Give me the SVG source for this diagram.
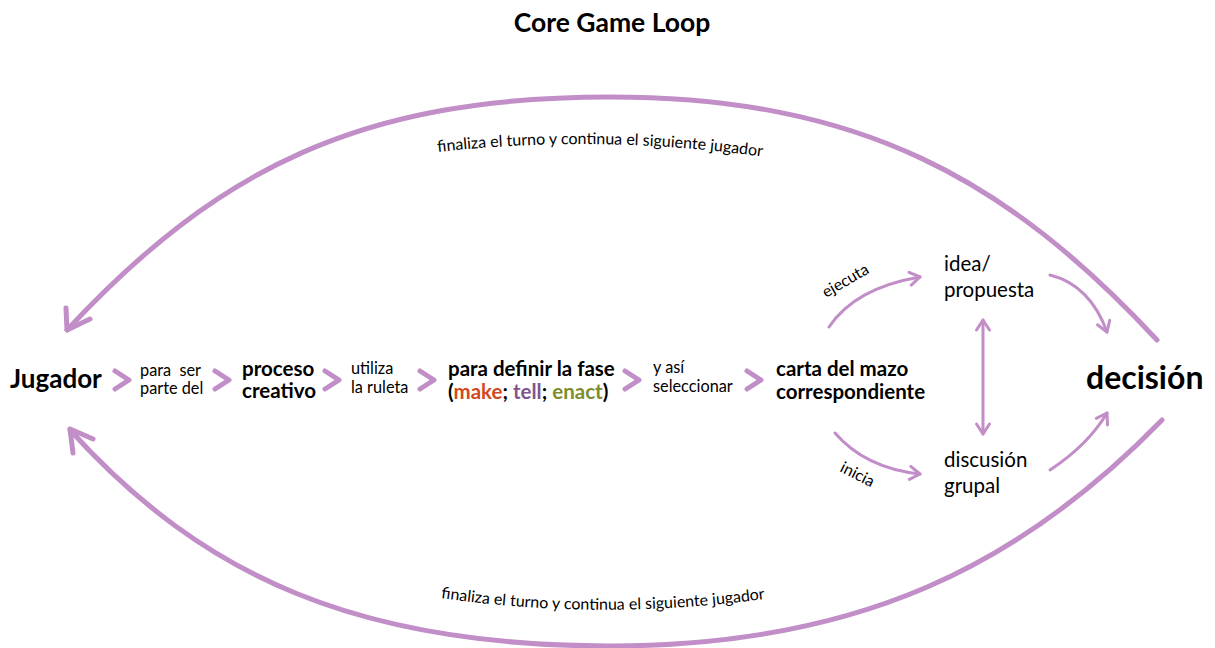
<svg xmlns="http://www.w3.org/2000/svg" width="1215" height="648" viewBox="0 0 1215 648">
  <style>
    text { font-family: Lato, "Open Sans", "Liberation Sans", sans-serif; fill: #000; }
    .title { font-size: 26.5px; font-weight: 700; }
    .main { font-size: 20.5px; font-weight: 700; }
    .big { font-size: 26px; font-weight: 700; }
    .huge { font-size: 32px; font-weight: 700; }
    .small { font-size: 16.3px; }
    .node { font-size: 20.5px; }
    .label { font-size: 16px; }
    .make { fill: #d3491c; }
    .tell { fill: #80558f; }
    .enact { fill: #7d8d2b; }
    .loop { fill: none; stroke: #c18ec8; stroke-width: 5; stroke-linecap: round; stroke-linejoin: round; }
    .link { fill: none; stroke: #c18ec8; stroke-width: 3; stroke-linecap: round; }
    .chev { fill: none; stroke: #c18ec8; stroke-width: 5; stroke-linecap: round; stroke-linejoin: round; }
  </style>
  <defs>
    <marker id="ah" markerUnits="userSpaceOnUse" viewBox="-13 -9 16 18" refX="0" refY="0"
            markerWidth="16" markerHeight="18" orient="auto-start-reverse" overflow="visible">
      <path d="M-10,-6.5 L0,0 L-10,6.5" fill="none" stroke="#c18ec8" stroke-width="3"
            stroke-linecap="round" stroke-linejoin="round"/>
    </marker>
    <path id="topLabelPath" d="M428,153 Q600,133 772,158"/>
    <path id="bottomLabelPath" d="M434,597 Q600,622 772,598"/>
  </defs>

  <text class="title" x="612" y="32" text-anchor="middle">Core Game Loop</text>

  <g id="connectors">
    <!-- outer loop back to the next player -->
    <path class="loop" d="M1157,340 C1007,179 860,97 610,97 C360,97 217,169 67,330"/>
    <polyline class="loop" points="66,308 67,330 90,319"/>
    <path class="loop" d="M1162,420 C1022,564 860,646 610,646 C360,646 204,578 70,430"/>
    <polyline class="loop" points="73,453 70,429 93,439"/>

    <!-- chevrons along the main row -->
    <polyline class="chev" points="115,371 129,380 115,389"/>
    <polyline class="chev" points="215,371 229,380 215,389"/>
    <polyline class="chev" points="325,371 339,380 325,389"/>
    <polyline class="chev" points="420,371 434,380 420,389"/>
    <polyline class="chev" points="625,371 639,380 625,389"/>
    <polyline class="chev" points="747,371 761,380 747,389"/>

    <!-- branches from the card -->
    <path class="link" d="M829,327 Q855,288 920,277" marker-end="url(#ah)"/>
    <path class="link" d="M835,433 Q865,468 920,474" marker-end="url(#ah)"/>
    <path class="link" d="M1050,275 Q1090,285 1107,332" marker-end="url(#ah)"/>
    <path class="link" d="M1050,470 Q1088,445 1107,413" marker-end="url(#ah)"/>
    <path class="link" d="M983,320 L983,434" marker-start="url(#ah)" marker-end="url(#ah)"/>

    <!-- connector labels -->
    <text class="label"><textPath href="#topLabelPath" startOffset="50%" text-anchor="middle">finaliza el turno y continua el siguiente jugador</textPath></text>
    <text class="label"><textPath href="#bottomLabelPath" startOffset="50%" text-anchor="middle">finaliza el turno y continua el siguiente jugador</textPath></text>
    <text class="label" transform="translate(826,298) rotate(-30)">ejecuta</text>
    <text class="label" transform="translate(839,471) rotate(27)">inicia</text>
    <text class="small" xml:space="preserve"><tspan x="140" y="376">para  ser</tspan><tspan x="140" y="394">parte del</tspan></text>
    <text class="small"><tspan x="351" y="374">utiliza</tspan><tspan x="351" y="393">la ruleta</tspan></text>
    <text class="small"><tspan x="653" y="373">y así</tspan><tspan x="653" y="392">seleccionar</tspan></text>
  </g>

  <g id="jugador">
    <text class="big" x="10" y="388">Jugador</text>
  </g>
  <g id="proceso">
    <text class="main"><tspan x="242" y="376">proceso</tspan><tspan x="242" y="398">creativo</tspan></text>
  </g>
  <g id="fase">
    <text class="main"><tspan x="448" y="376">para definir la fase</tspan><tspan x="448" y="399">(<tspan class="make">make</tspan>; <tspan class="tell">tell</tspan>; <tspan class="enact">enact</tspan>)</tspan></text>
  </g>
  <g id="carta">
    <text class="main"><tspan x="776" y="376">carta del mazo</tspan><tspan x="776" y="399">correspondiente</tspan></text>
  </g>
  <g id="idea">
    <text class="node"><tspan x="944" y="271">idea/</tspan><tspan x="944" y="297">propuesta</tspan></text>
  </g>
  <g id="discusion">
    <text class="node"><tspan x="944" y="467">discusión</tspan><tspan x="944" y="493">grupal</tspan></text>
  </g>
  <g id="decision">
    <text class="huge" x="1086" y="389">decisión</text>
  </g>
</svg>
